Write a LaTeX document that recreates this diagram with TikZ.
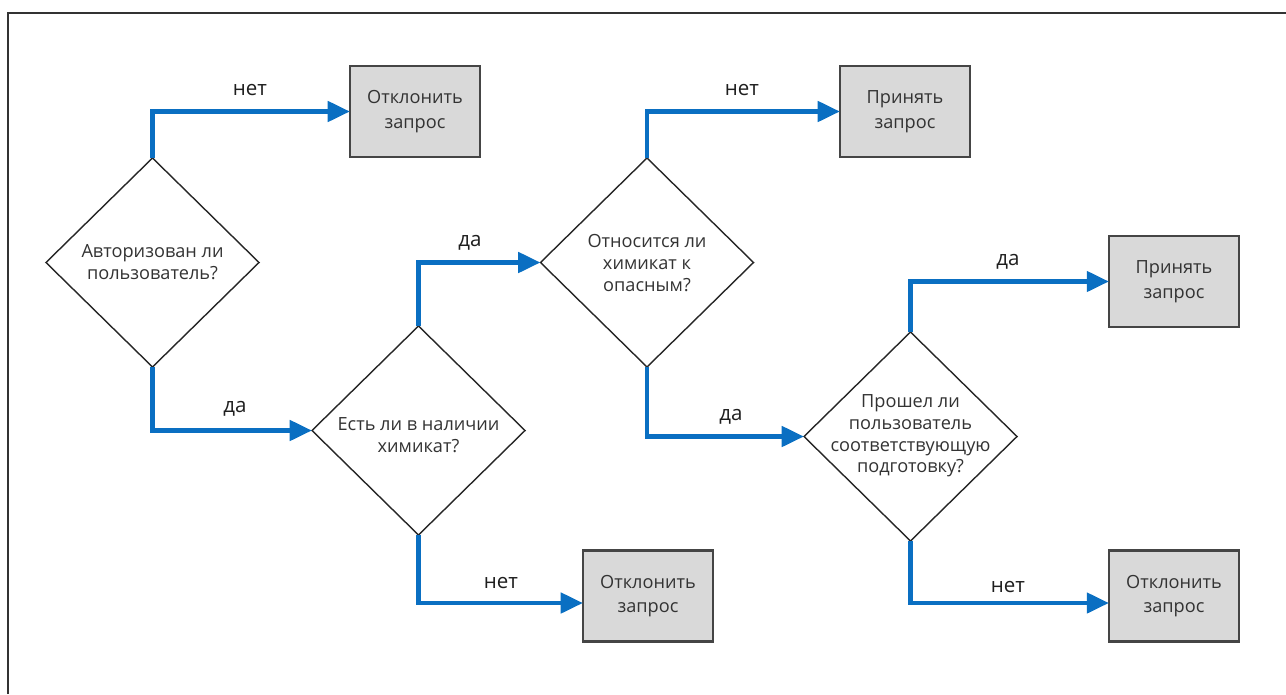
\documentclass[tikz,border=0pt]{standalone}
\usepackage{fontspec}
\setmainfont{Open Sans}
\usetikzlibrary{shapes.geometric,arrows.meta}

\definecolor{flowblue}{HTML}{0A6FC2}
\definecolor{boxfill}{HTML}{D9D9D9}
\definecolor{boxline}{HTML}{454545}
\definecolor{qtxt}{HTML}{333333}
\definecolor{lbltxt}{HTML}{1E1E1E}

\tikzset{
  decision/.style={diamond, draw=black!85, line width=1.2pt, fill=white,
    inner sep=0pt, outer sep=0pt, minimum width=6.39cm, minimum height=6.27cm},
  qtext/.style={align=center, text=qtxt, font=\fontsize{15.5}{18.5}\selectfont},
  outcome/.style={rectangle, draw=boxline, line width=2pt, fill=boxfill,
    inner sep=0pt, outer sep=0pt, minimum width=3.9cm, minimum height=2.73cm,
    align=center, text=qtxt, font=\fontsize{15.5}{21}\selectfont},
  flow/.style={draw=flowblue, line width=4.2pt,
    -{Triangle[length=19pt,width=17pt]}},
  lbl/.style={text=lbltxt, font=\fontsize{17.5}{20}\selectfont, inner sep=0pt},
  frameline/.style={draw=black!80, line width=1.8pt}
}

\begin{document}
\begin{tikzpicture}[x=0.03cm,y=-0.03cm]
  \useasboundingbox (0,0) rectangle (1286,694);

  % outer frame (left and top edges)
  \coordinate (fbl) at (8,694);
  \coordinate (ftl) at (8,13);
  \coordinate (ftr) at (1286,13);
  \draw[frameline] (fbl) -- (ftl) -- (ftr);

  % decisions
  \node[decision] (d1) at (152.5,262.5) {};
  \node[decision] (d2) at (418.5,430.5) {};
  \node[decision] (d3) at (647,262.5) {};
  \node[decision] (d4) at (910.5,436.5) {};

  \node[qtext] (d1t) at (152.5,262) {Авторизован ли\\пользователь?};
  \node[qtext] (d2t) at (418.5,435) {Есть ли в наличии\\химикат?};
  \node[qtext] (d3t) at (647,263) {Относится ли\\химикат к\\опасным?};
  \node[qtext] (d4t) at (910.5,436) {Прошел ли\\пользователь\\соответствующую\\подготовку?};

  % outcomes
  \node[outcome] (b1) at (415,111.5) {Отклонить\\запрос};
  \node[outcome] (b3) at (905,111.5) {Принять\\запрос};
  \node[outcome] (b2) at (648,596) {Отклонить\\запрос};
  \node[outcome] (b4) at (1174,281.5) {Принять\\запрос};
  \node[outcome] (b5) at (1174,596) {Отклонить\\запрос};

  % connectors
  \draw[flow] (d1.north) |- (b1.west);
  \draw[flow] (d1.south) |- (d2.west);
  \draw[flow] (d2.north) |- (d3.west);
  \draw[flow] (d2.south) |- ([yshift=-0.21cm]b2.west);
  \draw[flow] (d3.north) |- (b3.west);
  \draw[flow] (d3.south) |- (d4.west);
  \draw[flow] (d4.north) |- (b4.west);
  \draw[flow] (d4.south) |- ([yshift=-0.21cm]b5.west);

  % branch labels
  \node[lbl] (l1) at (250,90) {нет};
  \node[lbl] (l2) at (235,409) {да};
  \node[lbl] (l3) at (470,243) {да};
  \node[lbl] (l4) at (501,583) {нет};
  \node[lbl] (l5) at (742,90) {нет};
  \node[lbl] (l6) at (731,417) {да};
  \node[lbl] (l7) at (1008,262) {да};
  \node[lbl] (l8) at (1008,587) {нет};
\end{tikzpicture}
\end{document}
